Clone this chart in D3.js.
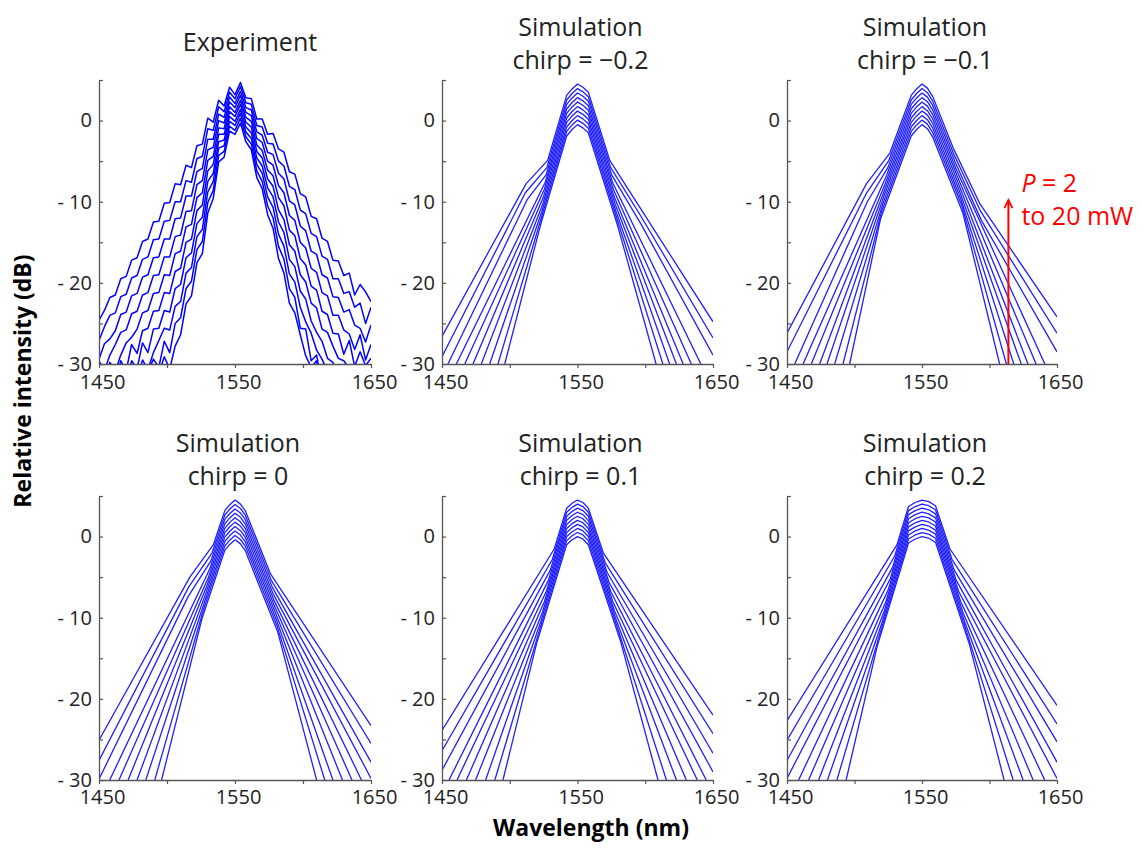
<!DOCTYPE html>
<html><head><meta charset="utf-8">
<script src="https://cdn.jsdelivr.net/npm/d3@7"></script>
<style>
body{margin:0;background:#fff}
svg{display:block}
text{font-family:'Open Sans',sans-serif;fill:#222}
</style>
</head><body>
<svg id="chart" width="1143" height="851"></svg>
<script>
// ---------- axis values ----------
const xTicks = [1450, 1500, 1550, 1600, 1650];
const xTickLabels = [1450, 1550, 1650];
const yTicks = [-30, -25, -20, -15, -10, -5, 0, 5];
const yTickLabels = [-30, -20, -10, 0];

// ---------- experiment (P = 2 ... 20 mW, lowest to highest) ----------
const expWavelength = [1450,1454,1458,1462,1466,1470,1474,1478,1482,1486,1490,1494,1498,1502,1506,1510,1514,1518,1522,1526,1530,1534,1538,1542,1546,1550,1554,1558,1562,1566,1570,1574,1578,1582,1586,1590,1594,1598,1602,1606,1610,1614,1618,1622,1626,1630,1634,1638,1642,1646,1650];
const expIntensity = [
 [-43,-43,-41,-41,-39,-39,-37,-37,-35,-34.4,-32.3,-31.2,-29.1,-30.6,-27.8,-26.4,-22.6,-21.6,-17.5,-16.4,-11.4,-9.6,-5.1,-4.5,-1.3,-1.7,-0.3,-2.6,-3.6,-7.0,-8.4,-11.6,-13.3,-17.0,-18.8,-22.5,-23.7,-26.4,-29.0,-30.4,-29.6,-34.7,-35.1,-37,-37,-39,-39,-40,-40,-41,-41],
 [-41,-41,-39,-39,-37,-37,-35,-34.5,-32.5,-31.0,-29.4,-30.4,-27.2,-28.6,-25.0,-24.3,-20.7,-19.8,-15.9,-14.9,-10.1,-8.6,-4.3,-3.8,-0.7,-1.2,0.3,-2.0,-2.9,-6.2,-7.5,-10.5,-12.0,-15.5,-17.1,-20.7,-21.8,-25.6,-25.7,-29.6,-28.9,-32.5,-32.9,-35,-35,-37,-37,-38,-38,-39,-39],
 [-39,-39,-37,-37,-35,-34.6,-32.6,-32.3,-29.5,-30.7,-28.6,-27.1,-25.6,-25.8,-22.9,-22.3,-18.8,-18.1,-14.3,-13.4,-8.8,-7.5,-3.4,-3.1,-0.1,-0.6,0.9,-1.4,-2.2,-5.4,-6.5,-9.4,-10.7,-14.0,-15.5,-18.9,-19.9,-23.0,-24.8,-26.2,-28.3,-29.4,-30.9,-33.0,-33.0,-35,-35,-36,-36,-37,-37],
 [-37,-37,-35,-34.7,-32.7,-32.4,-29.6,-30.6,-27.4,-28.6,-25.7,-25.6,-23.4,-23.6,-20.7,-20.2,-16.9,-16.3,-12.7,-11.9,-7.5,-6.5,-2.6,-2.4,0.5,-0.1,1.4,-0.8,-1.5,-4.6,-5.6,-8.3,-9.4,-12.5,-13.8,-17.1,-18.0,-21.0,-22.0,-24.7,-26.1,-27.2,-29.3,-29.8,-31.4,-32.6,-32.3,-34,-34,-35,-35],
 [-35,-34.8,-32.8,-32.5,-29.6,-30.8,-27.6,-28.7,-25.9,-25.6,-23.5,-23.4,-21.2,-21.3,-18.6,-18.2,-15.0,-14.6,-11.1,-10.4,-6.2,-5.4,-1.7,-1.7,1.1,0.5,2.0,-0.2,-0.8,-3.8,-4.6,-7.2,-8.1,-11.0,-12.2,-15.3,-16.1,-19.0,-19.9,-22.5,-23.1,-25.7,-26.1,-27.8,-29.3,-29.6,-30.6,-32.0,-31.5,-33.3,-32.7],
 [-32.9,-32.6,-29.8,-30.9,-28.9,-27.4,-26.7,-25.7,-23.7,-23.4,-21.3,-21.2,-19.0,-19.1,-16.4,-16.1,-13.1,-12.8,-9.5,-8.9,-4.9,-4.4,-0.9,-1.0,1.7,1.0,2.5,0.4,-0.1,-3.0,-3.7,-6.1,-6.8,-9.5,-10.5,-13.5,-14.2,-17.0,-17.8,-20.4,-20.9,-23.5,-23.9,-26.2,-26.3,-28.8,-27.1,-30.3,-28.5,-30.2,-29.3],
 [-29.6,-30.8,-28.9,-27.6,-26.1,-25.8,-23.8,-23.5,-21.5,-21.2,-19.1,-19.0,-16.8,-16.8,-14.3,-14.1,-11.2,-11.1,-7.9,-7.4,-3.6,-3.3,0.0,-0.3,2.3,1.6,3.1,1.0,0.6,-2.2,-2.7,-5.0,-5.5,-8.0,-8.9,-11.7,-12.3,-15.0,-15.7,-18.2,-18.7,-21.2,-21.6,-24.0,-24.0,-25.8,-26.3,-28.2,-26.4,-29.5,-27.6],
 [-29.4,-27.5,-26.9,-25.9,-23.9,-23.6,-21.6,-21.3,-19.3,-19.0,-16.9,-16.8,-14.6,-14.6,-12.1,-12.0,-9.3,-9.3,-6.3,-5.9,-2.3,-2.3,0.8,0.4,2.9,2.1,3.6,1.6,1.3,-1.4,-1.8,-3.9,-4.2,-6.5,-7.2,-9.9,-10.4,-13.0,-13.6,-16.1,-16.5,-19.0,-19.4,-21.7,-21.8,-23.6,-23.3,-25.2,-25.6,-27.3,-25.2],
 [-27.1,-25.4,-24.0,-23.7,-21.7,-21.4,-19.4,-19.1,-17.1,-16.8,-14.7,-14.6,-12.4,-12.3,-10.0,-10.0,-7.4,-7.6,-4.7,-4.4,-1.0,-1.2,1.7,1.1,3.5,2.7,4.2,2.2,2.0,-0.6,-0.8,-2.8,-2.9,-5.0,-5.6,-8.1,-8.5,-11.0,-11.5,-13.9,-14.3,-16.7,-17.1,-19.5,-19.5,-21.3,-21.1,-23.0,-22.5,-25.0,-23.0],
 [-24.6,-23.4,-21.8,-21.5,-19.5,-19.2,-17.2,-16.9,-14.9,-14.6,-12.5,-12.4,-10.2,-10.1,-7.8,-7.9,-5.5,-5.8,-3.1,-2.9,0.3,-0.2,2.5,1.8,4.1,3.2,4.7,2.8,2.7,0.2,0.2,-1.7,-1.6,-3.5,-3.9,-6.3,-6.6,-9.0,-9.4,-11.8,-12.1,-14.5,-14.9,-17.2,-17.3,-19.1,-18.8,-21.5,-20.2,-21.1,-22.3]
];

// ---------- simulations: [wavelength (nm), intensity (dB)] per power ----------
const simChirpM02 = [
 [[1496.3,-30],[1522.5,-13.0],[1542,-1.9],[1546,-1.1],[1550,-0.5],[1554,-0.9],[1558,-1.5],[1579.7,-13.0],[1608,-30]],
 [[1491.3,-30],[1523.1,-12.1],[1542,-1.34],[1546,-0.54],[1550,0.06],[1554,-0.34],[1558,-0.94],[1579.1,-12.1],[1613,-30]],
 [[1485.2,-30],[1523.7,-11.2],[1542,-0.79],[1546,0.01],[1550,0.61],[1554,0.21],[1558,-0.39],[1578.4,-11.2],[1618,-30]],
 [[1479.0,-30],[1524.3,-10.3],[1542,-0.23],[1546,0.57],[1550,1.17],[1554,0.77],[1558,0.17],[1577.8,-10.3],[1623,-30]],
 [[1472.9,-30],[1524.9,-9.4],[1542,0.32],[1546,1.12],[1550,1.72],[1554,1.32],[1558,0.72],[1577.1,-9.4],[1628,-30]],
 [[1466.8,-30],[1525.5,-8.5],[1542,0.88],[1546,1.68],[1550,2.28],[1554,1.88],[1558,1.28],[1576.5,-8.5],[1634,-30]],
 [[1460.6,-30],[1526.2,-7.6],[1542,1.43],[1546,2.23],[1550,2.83],[1554,2.43],[1558,1.83],[1575.8,-7.6],[1641,-30]],
 [[1454.4,-30],[1513,-9.7],[1526.8,-6.7],[1542,1.99],[1546,2.79],[1550,3.39],[1554,2.99],[1558,2.39],[1575.2,-6.7],[1597,-12.8],[1650,-28.9]],
 [[1450,-29.1],[1511.5,-8.9],[1527.4,-5.8],[1542,2.54],[1546,3.34],[1550,3.94],[1554,3.54],[1558,2.94],[1574.5,-5.8],[1596.5,-11.7],[1650,-26.8]],
 [[1450,-26.6],[1512,-7.8],[1528,-4.9],[1542,3.1],[1546,3.9],[1550,4.5],[1554,4.1],[1558,3.5],[1573.8,-4.9],[1596,-10.7],[1650,-24.8]]
];
const simChirpM01 = [
 [[1496.4,-30],[1519.3,-12.1],[1542,-1.9],[1546,-1.1],[1550,-0.5],[1554,-1.0],[1558,-2.05],[1580.3,-11.4],[1607.5,-30]],
 [[1491.5,-30],[1520.1,-11.2],[1542,-1.34],[1546,-0.54],[1550,0.06],[1554,-0.44],[1558,-1.49],[1579.5,-10.5],[1612.5,-30]],
 [[1485.3,-30],[1520.9,-10.3],[1542,-0.79],[1546,0.01],[1550,0.61],[1554,0.11],[1558,-0.94],[1578.6,-9.6],[1618,-30]],
 [[1479.6,-30],[1521.6,-9.4],[1542,-0.23],[1546,0.57],[1550,1.17],[1554,0.67],[1558,-0.38],[1577.8,-8.7],[1623.5,-30]],
 [[1474.2,-30],[1522.4,-8.5],[1542,0.32],[1546,1.12],[1550,1.72],[1554,1.22],[1558,0.17],[1577.0,-7.8],[1628.5,-30]],
 [[1468,-30],[1523.2,-7.6],[1542,0.88],[1546,1.68],[1550,2.28],[1554,1.78],[1558,0.73],[1576.2,-6.9],[1634.5,-30]],
 [[1461.9,-30],[1523.9,-6.7],[1542,1.43],[1546,2.23],[1550,2.83],[1554,2.33],[1558,1.28],[1575.3,-6.0],[1641,-30]],
 [[1455.7,-30],[1509.5,-10.0],[1524.7,-5.8],[1542,1.99],[1546,2.79],[1550,3.39],[1554,2.89],[1558,1.84],[1574.5,-5.1],[1594,-12.3],[1650,-28.5]],
 [[1450,-28.5],[1509,-8.9],[1525.5,-4.9],[1542,2.54],[1546,3.34],[1550,3.94],[1554,3.44],[1558,2.39],[1573.7,-4.2],[1593.5,-11.2],[1650,-26.2]],
 [[1450,-26.2],[1508.8,-7.8],[1526.2,-4.0],[1542,3.1],[1546,3.9],[1550,4.5],[1554,4.0],[1558,2.95],[1572.9,-3.3],[1592.7,-10.2],[1650,-24.2]]
];
const simChirp0 = [
 [[1496,-30],[1525.9,-10.0],[1542.5,-1.7],[1546,-1.0],[1550,-0.4],[1554,-0.9],[1557.5,-1.7],[1581.5,-11.8],[1610,-30]],
 [[1491,-30],[1526.8,-9.0],[1542.5,-1.16],[1546,-0.46],[1550,0.14],[1554,-0.36],[1557.5,-1.16],[1580.9,-11.0],[1616,-30]],
 [[1484.4,-30],[1527.7,-8.0],[1542.5,-0.61],[1546,0.09],[1550,0.69],[1554,0.19],[1557.5,-0.61],[1580.3,-10.2],[1622,-30]],
 [[1478,-30],[1528.6,-7.0],[1542.5,-0.07],[1546,0.63],[1550,1.23],[1554,0.73],[1557.5,-0.07],[1579.7,-9.4],[1629,-30]],
 [[1471.4,-30],[1529.5,-6.0],[1542.5,0.48],[1546,1.18],[1550,1.78],[1554,1.28],[1557.5,0.48],[1579.1,-8.6],[1636,-30]],
 [[1464.7,-30],[1530.5,-5.0],[1542.5,1.02],[1546,1.72],[1550,2.32],[1554,1.82],[1557.5,1.02],[1578.5,-7.8],[1643,-30]],
 [[1457.9,-30],[1531.4,-4.0],[1542.5,1.57],[1546,2.27],[1550,2.87],[1554,2.37],[1557.5,1.57],[1577.9,-7.0],[1650,-29.8]],
 [[1450,-29.9],[1515.5,-7.4],[1532.3,-3.0],[1542.5,2.11],[1546,2.81],[1550,3.41],[1554,2.91],[1557.5,2.11],[1577.3,-6.2],[1650,-27.8]],
 [[1450,-27.6],[1516,-6.2],[1533.2,-2.0],[1542.5,2.66],[1546,3.36],[1550,3.96],[1554,3.46],[1557.5,2.66],[1576.7,-5.4],[1650,-25.5]],
 [[1450,-25.1],[1516.8,-5.0],[1534.1,-1.0],[1542.5,3.2],[1546,3.9],[1550,4.5],[1554,4.0],[1557.5,3.2],[1576.1,-4.6],[1650,-23.3]]
];
const simChirpP01 = [
 [[1495,-30],[1519.8,-13.2],[1542,-1.0],[1546,-0.4],[1550,0],[1554,-0.3],[1558,-1.0],[1581.6,-12.8],[1609.4,-30]],
 [[1489,-30],[1521.3,-11.9],[1542,-0.5],[1546,0.1],[1550,0.5],[1554,0.2],[1558,-0.5],[1580.2,-11.6],[1615.6,-30]],
 [[1482.2,-30],[1522.7,-10.6],[1542,0],[1546,0.6],[1550,1.0],[1554,0.7],[1558,0],[1578.8,-10.4],[1623,-30]],
 [[1474.8,-30],[1524.2,-9.3],[1542,0.5],[1546,1.1],[1550,1.5],[1554,1.2],[1558,0.5],[1577.4,-9.2],[1630.3,-30]],
 [[1468,-30],[1525.6,-8.0],[1542,1.0],[1546,1.6],[1550,2.0],[1554,1.7],[1558,1.0],[1576,-8.0],[1638.4,-30]],
 [[1461.1,-30],[1527.1,-6.7],[1542,1.5],[1546,2.1],[1550,2.5],[1554,2.2],[1558,1.5],[1574.6,-6.8],[1645,-30]],
 [[1455.2,-30],[1528.5,-5.4],[1542,2.0],[1546,2.6],[1550,3.0],[1554,2.7],[1558,2.0],[1573.2,-5.6],[1650,-29.0]],
 [[1450,-28.8],[1530.0,-4.1],[1542,2.5],[1546,3.1],[1550,3.5],[1554,3.2],[1558,2.5],[1571.8,-4.4],[1650,-26.7]],
 [[1450,-26.4],[1531.5,-2.8],[1542,3.0],[1546,3.6],[1550,4.0],[1554,3.7],[1558,3.0],[1570.4,-3.2],[1650,-24.3]],
 [[1450,-23.9],[1532.9,-1.5],[1542,3.5],[1546,4.1],[1550,4.5],[1554,4.2],[1558,3.5],[1569,-2.0],[1650,-22.0]]
];
const simChirpP02 = [
 [[1493.8,-30],[1516.7,-13.6],[1540,-0.8],[1545,-0.3],[1550,0],[1555,-0.2],[1560,-0.7],[1585,-13.2],[1610.8,-30]],
 [[1487,-30],[1518.4,-12.2],[1540,-0.3],[1545,0.2],[1550,0.5],[1555,0.3],[1560,-0.2],[1583.4,-11.9],[1617.5,-30]],
 [[1480,-30],[1520,-10.8],[1540,0.2],[1545,0.7],[1550,1.0],[1555,0.8],[1560,0.3],[1581.8,-10.6],[1624.9,-30]],
 [[1473.4,-30],[1521.6,-9.4],[1540,0.7],[1545,1.2],[1550,1.5],[1555,1.3],[1560,0.8],[1580.2,-9.3],[1632.3,-30]],
 [[1466,-30],[1523.3,-8.0],[1540,1.2],[1545,1.7],[1550,2.0],[1555,1.8],[1560,1.3],[1578.6,-8.0],[1640.9,-30]],
 [[1458.6,-30],[1524.9,-6.6],[1540,1.7],[1545,2.2],[1550,2.5],[1555,2.3],[1560,1.8],[1577,-6.7],[1650,-29.8]],
 [[1450,-29.8],[1526.5,-5.2],[1540,2.2],[1545,2.7],[1550,3.0],[1555,2.8],[1560,2.3],[1575.4,-5.4],[1650,-27.8]],
 [[1450,-27.6],[1528.2,-3.8],[1540,2.7],[1545,3.2],[1550,3.5],[1555,3.3],[1560,2.8],[1573.8,-4.1],[1650,-25.3]],
 [[1450,-25.1],[1529.8,-2.4],[1540,3.2],[1545,3.7],[1550,4.0],[1555,3.8],[1560,3.3],[1572.2,-2.8],[1650,-23.1]],
 [[1450,-22.7],[1531.5,-1.0],[1540,3.7],[1545,4.2],[1550,4.5],[1555,4.3],[1560,3.8],[1570.6,-1.5],[1650,-20.8]]
];

const panelTitles = [
 ["Experiment"],
 ["Simulation", "chirp = \u22120.2"],
 ["Simulation", "chirp = \u22120.1"],
 ["Simulation", "chirp = 0"],
 ["Simulation", "chirp = 0.1"],
 ["Simulation", "chirp = 0.2"]
];

// annotation (panel 3): arrow at wavelength, from/to intensity
const arrowWavelength = 1614;
const arrowFrom = -30, arrowTo = -9.8;

// ---------- layout ----------
const cols = [[99, 371], [442, 713], [787, 1057]];
const rows = [[80, 364], [496, 780]];
const xLabelPad = [11, 10];
const panelData = [null, simChirpM02, simChirpM01, simChirp0, simChirpP01, simChirpP02];

const svg = d3.select('#chart');
const defs = svg.append('defs');
const BLUE = '#1f1fff';

panelData.forEach((data, pi) => {
  const [x0, x1] = cols[pi % 3];
  const r = Math.floor(pi / 3);
  const [yt, yb] = rows[r];
  const x = d3.scaleLinear().domain([1450, 1650]).range([x0, x1]);
  const y = d3.scaleLinear().domain([-30, 5]).range([yb, yt]);
  const g = svg.append('g');

  defs.append('clipPath').attr('id', 'clip' + pi)
    .append('rect').attr('x', x0).attr('y', yt - 10).attr('width', x1 - x0).attr('height', yb - yt + 10);
  const lg = g.append('g').attr('clip-path', `url(#clip${pi})`);

  if (pi === 0) {
    const line = d3.line().x((d, i) => x(expWavelength[i])).y(d => y(d));
    lg.selectAll('path').data(expIntensity).join('path')
      .attr('d', line).attr('fill', 'none').attr('stroke', '#0000ff')
      .attr('stroke-width', 1.5).attr('stroke-linejoin', 'round');
  } else {
    const line = d3.line().x(d => x(d[0])).y(d => y(d[1]));
    lg.selectAll('path').data(data).join('path')
      .attr('d', line).attr('fill', 'none').attr('stroke', BLUE)
      .attr('stroke-width', 1.3).attr('stroke-linejoin', 'round');
  }

  // y axis: ticks inside (right), labels on left
  const yAx = g.append('g').attr('transform', `translate(${x0},0)`)
    .call(d3.axisRight(y).tickValues(yTicks).tickSize(4).tickSizeOuter(0).tickFormat(''));
  const yLab = g.append('g').attr('transform', `translate(${x0},0)`)
    .call(d3.axisLeft(y).tickValues(yTickLabels).tickSize(0).tickPadding(7)
      .tickFormat(v => v === 0 ? '0' : '- ' + Math.abs(v)));
  yLab.select('.domain').remove();

  // x axis
  const xAx = g.append('g').attr('transform', `translate(0,${yb})`)
    .call(d3.axisBottom(x).tickValues(xTicks).tickSize(4).tickSizeOuter(0).tickFormat(''));
  const xLab = g.append('g').attr('transform', `translate(3,${yb})`)
    .call(d3.axisBottom(x).tickValues(xTickLabels).tickSize(0).tickPadding(xLabelPad[r]).tickFormat(d3.format('d')));
  xLab.select('.domain').remove();

  [yAx, xAx].forEach(a => {
    a.select('.domain').attr('stroke', '#555').attr('stroke-width', 1.3);
    a.selectAll('.tick line').attr('stroke', '#555').attr('stroke-width', 1.2);
  });
  [yLab, xLab].forEach(a => a.selectAll('text')
    .style('font-family', "'Open Sans', sans-serif").style('font-size', '20px').attr('fill', '#222'));

  // titles
  const cx = (x0 + x1) / 2 + 3;
  const titles = panelTitles[pi];
  if (titles.length === 1) {
    g.append('text').attr('x', cx + 12).attr('y', yt - 29).attr('text-anchor', 'middle')
      .style('font-size', '25px').text(titles[0]);
  } else {
    titles.forEach((t, k) => {
      g.append('text').attr('x', cx).attr('y', yt - 44 + k * 33).attr('text-anchor', 'middle')
        .style('font-size', '25px').text(t);
    });
  }

  // annotation arrow
  if (pi === 2) {
    const ax = x(arrowWavelength), ay0 = y(arrowFrom), ay1 = y(arrowTo);
    g.append('line').attr('x1', ax).attr('x2', ax).attr('y1', ay0).attr('y2', ay1)
      .attr('stroke', '#ff0000').attr('stroke-width', 2);
    g.append('path').attr('d', `M${ax - 4},${ay1 + 8} L${ax},${ay1} L${ax + 4},${ay1 + 8}`)
      .attr('fill', 'none').attr('stroke', '#ff0000').attr('stroke-width', 1.8);
    const t1 = g.append('text').attr('x', ax + 13).attr('y', ay1 - 8).style('font-size', '25px').style('fill', '#ff0000');
    t1.append('tspan').style('font-style', 'italic').text('P');
    t1.append('tspan').text(' = 2');
    g.append('text').attr('x', ax + 13).attr('y', ay1 + 25).style('font-size', '25px').style('fill', '#ff0000').text('to 20 mW');
  }
});

// axis titles
svg.append('text').attr('transform', 'translate(31,381) rotate(-90)').attr('text-anchor', 'middle')
  .style('font-size', '23px').style('font-weight', '700').style('fill', '#000').text('Relative intensity (dB)');
svg.append('text').attr('x', 591).attr('y', 836).attr('text-anchor', 'middle')
  .style('font-size', '23px').style('font-weight', '700').style('fill', '#000').text('Wavelength (nm)');
</script>
</body></html>
